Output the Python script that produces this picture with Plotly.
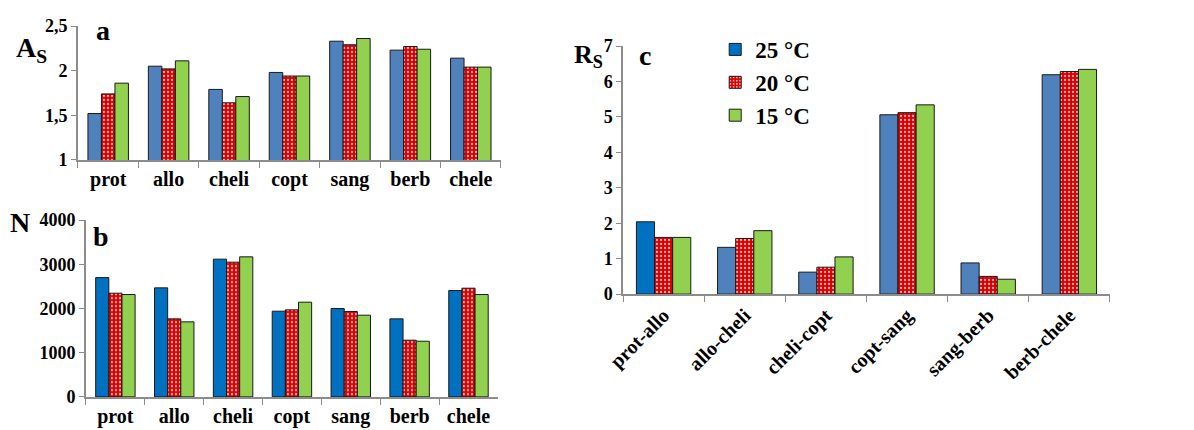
import plotly.graph_objects as go

# ---------------- data ----------------
temps = ["25 °C", "20 °C", "15 °C"]
cats_ab = ["prot", "allo", "cheli", "copt", "sang", "berb", "chele"]
cats_c = ["prot-allo", "allo-cheli", "cheli-copt", "copt-sang", "sang-berb", "berb-chele"]

As_25 = [1.52, 2.05, 1.79, 1.98, 2.33, 2.23, 2.14]
As_20 = [1.74, 2.02, 1.64, 1.94, 2.29, 2.27, 2.04]
As_15 = [1.86, 2.11, 1.71, 1.94, 2.36, 2.24, 2.04]

N_25 = [2700, 2468, 3117, 1940, 2000, 1766, 2408]
N_20 = [2347, 1766, 3049, 1970, 1932, 1283, 2460]
N_15 = [2317, 1698, 3170, 2143, 1849, 1260, 2317]

Rs_25 = [2.04, 1.32, 0.62, 5.06, 0.88, 6.19]
Rs_20 = [1.60, 1.57, 0.76, 5.12, 0.50, 6.28]
Rs_15 = [1.60, 1.79, 1.05, 5.34, 0.42, 6.34]

# ---------------- styles ----------------
BLUE_A = "#4F81BD"
BLUE_B = "#0070C0"
GREEN = "#92D050"
RED_BG = "#D90000"
RED_FG = "#FFB3B3"
LINE = dict(color="#1a1a1a", width=1)
SERIF = "Liberation Serif"
AX = "#8c8c8c"

red_pattern = dict(shape=".", bgcolor=RED_BG, fgcolor=RED_FG, size=4, solidity=0.25, fillmode="replace")

fig = go.Figure()

def add_panel(cats, v25, v20, v15, xa, ya, blue_colors, show):
    fig.add_trace(go.Bar(x=cats, y=v25, name=temps[0], legendgroup="25", showlegend=show,
                         marker=dict(color=blue_colors, line=LINE), xaxis=xa, yaxis=ya))
    fig.add_trace(go.Bar(x=cats, y=v20, name=temps[1], legendgroup="20", showlegend=show,
                         marker=dict(color=RED_BG, line=LINE, pattern=red_pattern), xaxis=xa, yaxis=ya))
    fig.add_trace(go.Bar(x=cats, y=v15, name=temps[2], legendgroup="15", showlegend=show,
                         marker=dict(color=GREEN, line=LINE), xaxis=xa, yaxis=ya))

add_panel(cats_ab, As_25, As_20, As_15, "x", "y", [BLUE_A] * len(cats_ab), False)
add_panel(cats_ab, N_25, N_20, N_15, "x2", "y2", [BLUE_B] * len(cats_ab), False)
add_panel(cats_c, Rs_25, Rs_20, Rs_15, "x3", "y3", [BLUE_B] + [BLUE_A] * (len(cats_c) - 1), True)

tickfont = dict(family=SERIF, size=18, color="black", weight="bold")
xcommon = dict(showline=True, linecolor=AX, linewidth=1.5, ticks="outside", tickson="boundaries",
               ticklen=6, tickcolor=AX, tickfont=dict(family=SERIF, size=20, color="black", weight="bold"),
               showgrid=False, automargin=False)
ycommon = dict(showline=True, linecolor=AX, linewidth=1.5, ticks="outside", ticklen=5, tickcolor=AX,
               tickfont=tickfont, showgrid=False, zeroline=False, automargin=False)

fig.update_layout(
    width=1194, height=430,
    margin=dict(l=0, r=0, t=0, b=0),
    paper_bgcolor="white", plot_bgcolor="white",
    barmode="group", bargap=0.33, bargroupgap=0.0,
    separators=", ",
    xaxis=dict(domain=[0.0653, 0.4196], anchor="y", **xcommon),
    yaxis=dict(domain=[0.628, 0.9395], anchor="x", range=[1, 2.5], dtick=0.5, **ycommon),
    xaxis2=dict(domain=[0.072, 0.417], anchor="y2", **xcommon),
    yaxis2=dict(domain=[0.077, 0.488], anchor="x2", range=[0, 4000], dtick=1000, **ycommon),
    xaxis3=dict(domain=[0.5218, 0.9296], anchor="y3", tickangle=-45, **xcommon),
    yaxis3=dict(domain=[0.316, 0.893], anchor="x3", range=[0, 7], dtick=1, **ycommon),
    legend=dict(x=0.599, y=0.935, xanchor="left", yanchor="top", bgcolor="rgba(0,0,0,0)",
                font=dict(family=SERIF, size=23, color="black", weight="bold"),
                tracegroupgap=0, itemwidth=30),
    font=dict(family=SERIF, color="black"),
)

ann_font_big = dict(family=SERIF, size=28, color="black", weight="bold")
annots = [
    dict(text="a", x=103 / 1194, y=1 - 30 / 430),
    dict(text="b", x=101 / 1194, y=1 - 236 / 430),
    dict(text="c", x=645 / 1194, y=1 - 55 / 430),
    dict(text="A<sub>S</sub>", x=31 / 1194, y=1 - 50 / 430),
    dict(text="N", x=20 / 1194, y=1 - 222 / 430),
    dict(text="R<sub>S</sub>", x=588 / 1194, y=1 - 56 / 430, font=dict(family=SERIF, size=26, color="black", weight="bold")),
]
for a in annots:
    f = a.pop("font", ann_font_big)
    fig.add_annotation(xref="paper", yref="paper", showarrow=False, font=f,
                       xanchor="center", yanchor="middle", **a)

fig.write_html("out.html")
